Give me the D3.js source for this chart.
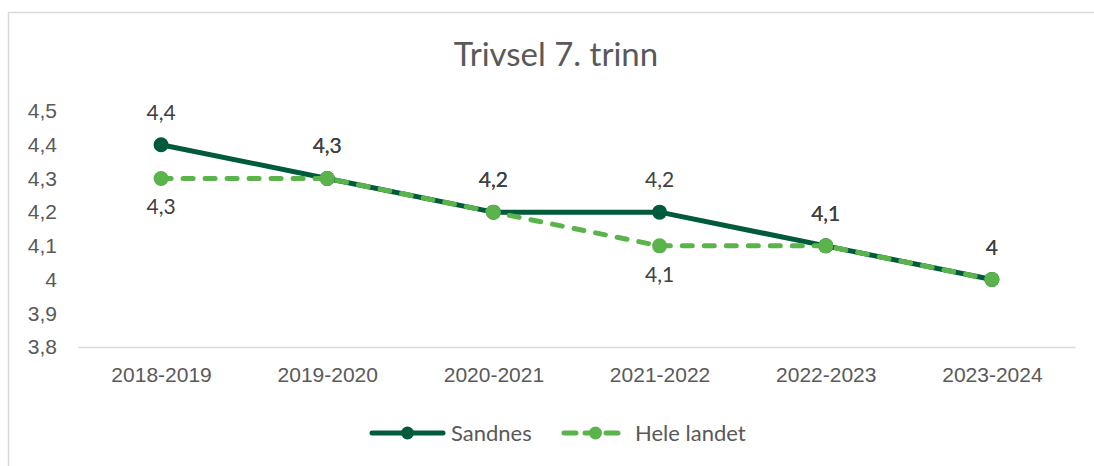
<!DOCTYPE html>
<html>
<head>
<meta charset="utf-8">
<script src="https://cdn.jsdelivr.net/npm/d3@7"></script>
<style>
  html, body { margin: 0; padding: 0; background: #fff; }
  svg { display: block; font-family: Lato, "Open Sans", sans-serif; }
</style>
</head>
<body>
<svg id="chart" width="1094" height="466"></svg>
<script>
// data
const years = ["2018-2019", "2019-2020", "2020-2021", "2021-2022", "2022-2023", "2023-2024"];
const sandnes = [4.4, 4.3, 4.2, 4.2, 4.1, 4.0];
const heleLandet = [4.3, 4.3, 4.2, 4.1, 4.1, 4.0];
// where each "Hele landet" label sits relative to its point
const heleLabelPos = ["below", "above", "above", "below", "above", "above"];
const yTicks = [3.8, 3.9, 4.0, 4.1, 4.2, 4.3, 4.4, 4.5];

const dark = "#005a3c";
const light = "#5ab34b";

const fmt = d3.formatLocale({ decimal: ",", thousands: " ", grouping: [3], currency: ["", ""] }).format(".1~f");

const svg = d3.select("#chart");

// outer frame
svg.append("path")
  .attr("d", "M8.5,466 L8.5,12.5 L1094,12.5")
  .attr("fill", "none")
  .attr("stroke", "#d9d9d9")
  .attr("stroke-width", 1.5);

svg.append("text")
  .attr("x", 556)
  .attr("y", 66)
  .attr("text-anchor", "middle")
  .attr("font-size", 33)
  .attr("fill", "#595959")
  .text("Trivsel 7. trinn");

const x = d3.scalePoint().domain(years).range([78, 1075]).padding(0.5);
const y = d3.scaleLinear().domain([3.8, 4.5]).range([347, 111]);

// x axis
const xAxis = svg.append("g")
  .attr("transform", "translate(0,347)")
  .call(d3.axisBottom(x).tickSize(0).tickPadding(20));
xAxis.select(".domain").attr("stroke", "#d9d9d9").attr("stroke-width", 1.5);
xAxis.selectAll("text").attr("font-size", 21).attr("fill", "#595959").attr("font-family", null);

// y axis (labels only)
const yAxis = svg.append("g")
  .attr("transform", "translate(57,0)")
  .call(d3.axisLeft(y).tickValues(yTicks).tickFormat(fmt).tickSize(0).tickPadding(0));
yAxis.select(".domain").remove();
yAxis.selectAll("text").attr("font-size", 21).attr("fill", "#595959").attr("font-family", null);

const line = d3.line().x((d, i) => x(years[i])).y(d => y(d));

function drawSeries(values, color, dash) {
  svg.append("path")
    .datum(values)
    .attr("d", line)
    .attr("fill", "none")
    .attr("stroke", color)
    .attr("stroke-width", 5)
    .attr("stroke-linejoin", "round")
    .attr("stroke-linecap", dash ? "round" : "butt")
    .attr("stroke-dasharray", dash);
  svg.append("g").selectAll("circle")
    .data(values)
    .join("circle")
    .attr("cx", (d, i) => x(years[i]))
    .attr("cy", d => y(d))
    .attr("r", 7.5)
    .attr("fill", color);
}

drawSeries(sandnes, dark, null);
drawSeries(heleLandet, light, "10 12");

// data labels
const labels = svg.append("g")
  .attr("font-size", 21)
  .attr("fill", "#404040")
  .attr("text-anchor", "middle");

labels.selectAll("text.s")
  .data(sandnes)
  .join("text")
  .attr("class", "s")
  .attr("x", (d, i) => x(years[i]))
  .attr("y", d => y(d) - 25)
  .text(fmt);

labels.selectAll("text.h")
  .data(heleLandet)
  .join("text")
  .attr("class", "h")
  .attr("x", (d, i) => x(years[i]))
  .attr("y", (d, i) => heleLabelPos[i] === "below" ? y(d) + 36 : y(d) - 25)
  .text(fmt);

// legend
const legend = svg.append("g").attr("transform", "translate(0,433)");
const items = [
  { name: "Sandnes", color: dark, dash: null, x0: 372, x1: 443 },
  { name: "Hele landet", color: light, dash: "12 9", x0: 564, x1: 627 }
];
items.forEach(it => {
  legend.append("line")
    .attr("x1", it.x0).attr("x2", it.x1)
    .attr("stroke", it.color)
    .attr("stroke-width", 5)
    .attr("stroke-linecap", "round")
    .attr("stroke-dasharray", it.dash);
  legend.append("circle")
    .attr("cx", (it.x0 + it.x1) / 2)
    .attr("r", 6.5)
    .attr("fill", it.color);
  legend.append("text")
    .attr("x", it.x1 + 8)
    .attr("dy", "0.35em")
    .attr("font-size", 22)
    .attr("fill", "#595959")
    .text(it.name);
});
</script>
</body>
</html>
